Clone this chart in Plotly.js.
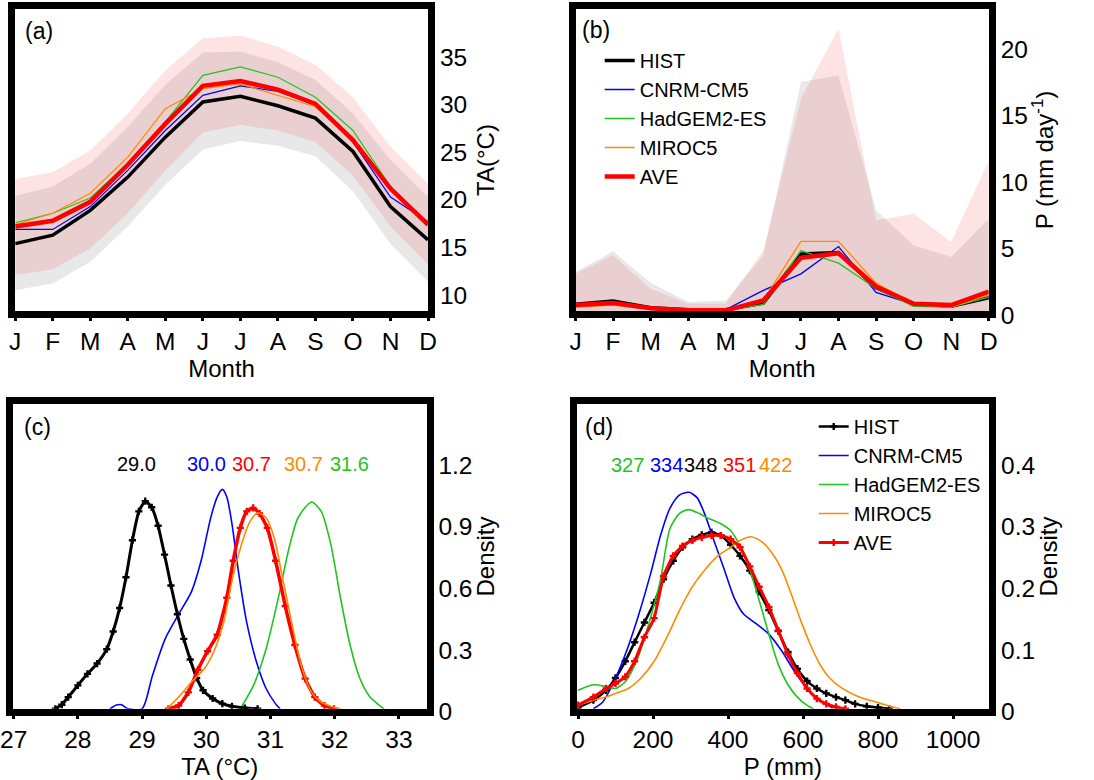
<!DOCTYPE html>
<html><head><meta charset="utf-8">
<script src="https://cdn.plot.ly/plotly-3.0.1.min.js"></script>
<style>html,body{margin:0;padding:0;background:#fff}#chart{width:1094px;height:780px}</style>
</head><body><div id="chart"></div>
<script>
// ---------- data ----------
const months = ['J','F','M','A','M','J','J','A','S','O','N','D'];
const monthIdx = [1,2,3,4,5,6,7,8,9,10,11,12];

// (a) air temperature, monthly
const taHIST   = [15.4,16.3,18.9,22.4,26.6,30.3,30.9,29.9,28.6,25.1,19.3,15.8];
const taCNRM   = [16.9,16.9,19.3,23.1,27.3,31.0,32.0,31.4,30.0,26.1,20.3,17.7];
const taHadGEM = [17.6,18.6,20.2,23.8,28.2,33.1,34.0,32.9,30.8,27.3,21.4,17.6];
const taMIROC  = [17.4,18.6,20.7,24.5,29.6,31.7,32.2,31.0,29.8,26.3,21.2,17.5];
const taAVE    = [17.2,17.8,19.8,23.7,28.0,32.0,32.5,31.6,30.1,26.3,21.2,17.4];
const taHISTlo = [10.5,11.2,13.5,17.2,21.6,25.3,26.2,25.7,24.6,20.9,15.4,11.4];
const taHISThi = [20.4,21.4,23.8,27.7,32.1,35.5,35.6,34.5,32.6,29.1,24.2,20.3];
const taAVElo  = [12.1,12.7,14.9,18.6,23.1,27.1,27.9,27.3,26.1,22.6,17.2,13.2];
const taAVEhi  = [22.2,22.9,25.2,29.1,33.6,37.0,37.3,36.1,34.2,30.8,25.6,21.7];

// (b) precipitation, monthly
const pHIST   = [0.5,0.75,0.25,0.1,0.1,0.6,4.3,4.4,1.75,0.55,0.35,1.0];
const pCNRM   = [0.45,0.6,0.2,0.05,0.1,1.55,2.8,4.85,1.4,0.5,0.3,1.05];
const pHadGEM = [0.35,0.55,0.15,0.05,0.05,0.5,4.55,3.6,1.7,0.35,0.3,1.05];
const pMIROC  = [0.3,0.45,0.15,0.05,0.05,0.8,5.25,5.25,2.1,0.55,0.3,1.2];
const pAVE    = [0.45,0.6,0.2,0.05,0.05,0.8,4.0,4.35,1.85,0.55,0.45,1.45];
const pHISThi = [2.94,4.49,2.13,0.68,0.8,4.19,17.24,17.74,7.58,4.94,4.07,6.95];
const pAVEhi  = [2.81,4.19,1.68,0.55,0.55,4.57,15.98,21.25,6.83,7.33,5.19,11.34];

// (c) density of TA
const cHISTx = [27.65,27.75,27.85,28.0,28.15,28.3,28.45,28.55,28.65,28.75,28.85,28.95,29.05,29.15,29.25,29.35,29.45,29.55,29.65,29.75,29.85,29.95,30.1,30.25,30.4,30.6,30.8];
const cHISTy = [0,0.02,0.057,0.114,0.17,0.22,0.29,0.376,0.49,0.64,0.82,0.96,1.01,0.98,0.89,0.75,0.6,0.46,0.34,0.24,0.15,0.09,0.05,0.025,0.012,0.004,0];
const cCNRMx = [28.5,28.6,28.68,28.78,29.0,29.16,29.36,29.57,29.77,29.92,30.07,30.17,30.25,30.32,30.4,30.5,30.63,30.78,30.93,31.08,31.15];
const cCNRMy = [0,0.018,0.02,0,0,0.16,0.34,0.46,0.57,0.72,0.93,1.03,1.067,1.03,0.9,0.67,0.42,0.23,0.1,0.024,0];
const cHadx  = [30.53,30.73,30.93,31.13,31.28,31.43,31.64,31.79,31.94,32.09,32.24,32.39,32.55,32.7,32.77];
const cHady  = [0,0.11,0.29,0.55,0.77,0.93,1.006,0.96,0.8,0.54,0.31,0.15,0.057,0.016,0];
const cMIROCx = [29.39,29.57,29.77,29.97,30.12,30.27,30.42,30.58,30.68,30.8,30.93,31.06,31.18,31.33,31.48,31.64,31.79,31.94,32.09];
const cMIROCy = [0,0.057,0.13,0.195,0.28,0.42,0.65,0.83,0.91,0.953,0.93,0.83,0.65,0.42,0.21,0.08,0.033,0.013,0];
const cAVEx = [29.41,29.57,29.72,29.87,30.02,30.17,30.32,30.42,30.53,30.63,30.73,30.83,30.95,31.08,31.23,31.38,31.54,31.69,31.84,31.99];
const cAVEy = [0,0.016,0.08,0.19,0.28,0.36,0.54,0.72,0.88,0.96,0.977,0.95,0.88,0.72,0.5,0.31,0.147,0.057,0.016,0];
const cLabels = ['29.0','30.0','30.7','30.7','31.6'];
const cLabelX = [28.91,30.0,30.70,31.51,32.23];

// (d) density of P
const dHISTx = [0,41,75,100,126,151,177,203,228,254,279,305,330,356,381,407,432,458,483,509,534,560,585,611,637,662,688,713,739,770,800,830];
const dHISTy = [0.002,0.014,0.03,0.05,0.077,0.108,0.14,0.172,0.21,0.24,0.262,0.275,0.282,0.286,0.281,0.266,0.248,0.224,0.19,0.16,0.126,0.092,0.065,0.045,0.033,0.025,0.019,0.014,0.008,0.004,0.002,0];
const dCNRMx = [41,66,92,126,160,194,220,245,271,296,318,339,364,390,415,441,475,509,543,577,611,645,679];
const dCNRMy = [0,0.011,0.039,0.088,0.149,0.22,0.281,0.325,0.347,0.351,0.342,0.314,0.27,0.226,0.182,0.154,0.138,0.121,0.094,0.061,0.033,0.014,0.001];
const dHadx = [0,41,75,100,126,160,194,220,245,271,296,322,347,381,407,432,458,483,509,534,560,585,611,628];
const dHady = [0.03,0.039,0.036,0.033,0.044,0.083,0.149,0.209,0.292,0.317,0.323,0.317,0.309,0.3,0.289,0.264,0.226,0.176,0.121,0.072,0.039,0.019,0.0055,0];
const dMIROCx = [0,41,75,100,134,168,203,237,271,305,339,373,407,432,462,492,517,543,568,594,619,645,671,705,739,770,800,840,860];
const dMIROCy = [0.0055,0.014,0.019,0.025,0.033,0.05,0.077,0.116,0.16,0.198,0.226,0.248,0.262,0.273,0.279,0.27,0.253,0.226,0.187,0.143,0.105,0.072,0.05,0.033,0.022,0.015,0.01,0.003,0];
const dAVEx = [0,41,75,100,126,151,177,203,228,254,279,305,330,356,381,407,432,458,483,509,534,560,585,611,637,662,688,713];
const dAVEy = [0.006,0.019,0.033,0.041,0.052,0.077,0.116,0.147,0.215,0.248,0.264,0.273,0.278,0.281,0.281,0.275,0.262,0.231,0.198,0.165,0.127,0.088,0.058,0.033,0.0165,0.008,0.003,0];
const dLabels = ['327','334','348','351','422'];
const dLabelX = [131,235,326,431,526];

// ---------- styles ----------
const F = 'Liberation Sans, Arial, sans-serif';
const C = {HIST:'#000000', CNRM:'#0000ff', Had:'#1fc41f', MIROC:'#ff8a00', AVE:'#ff0000'};
const GRAY = 'rgba(110,110,110,0.16)';
const PINK = 'rgba(240,60,60,0.14)';
const W = 1094, H = 780;
const px = v => v / W, py = v => 1 - v / H;

const traces = [];
function band(x, lo, hi, color, xa, ya) {
  traces.push({x: x, y: lo, xaxis: xa, yaxis: ya, mode: 'lines', line: {width: 0, color: color}, showlegend: false, hoverinfo: 'skip'});
  traces.push({x: x, y: hi, xaxis: xa, yaxis: ya, mode: 'lines', line: {width: 0, color: color}, fill: 'tonexty', fillcolor: color, showlegend: false, hoverinfo: 'skip'});
}
function zband(x, hi, color, xa, ya) {
  traces.push({x: x, y: hi, xaxis: xa, yaxis: ya, mode: 'lines', line: {width: 0, color: color}, fill: 'tozeroy', fillcolor: color, showlegend: false, hoverinfo: 'skip'});
}
function line(x, y, name, color, w, xa, ya, leg, extra) {
  const t = {x: x, y: y, xaxis: xa, yaxis: ya, name: name, mode: 'lines', line: {color: color, width: w}, showlegend: !!leg};
  if (leg) t.legend = leg;
  traces.push(Object.assign(t, extra || {}));
}

// (a)
band(monthIdx, taHISTlo, taHISThi, GRAY, 'x', 'y');
band(monthIdx, taAVElo, taAVEhi, PINK, 'x', 'y');
line(monthIdx, taHIST, 'HIST', C.HIST, 3.5, 'x', 'y');
line(monthIdx, taCNRM, 'CNRM-CM5', C.CNRM, 1.2, 'x', 'y');
line(monthIdx, taHadGEM, 'HadGEM2-ES', C.Had, 1.2, 'x', 'y');
line(monthIdx, taMIROC, 'MIROC5', C.MIROC, 1.2, 'x', 'y');
line(monthIdx, taAVE, 'AVE', C.AVE, 4.5, 'x', 'y');

// (b)
zband(monthIdx, pHISThi, GRAY, 'x2', 'y2');
zband(monthIdx, pAVEhi, PINK, 'x2', 'y2');
line(monthIdx, pHIST, 'HIST', C.HIST, 3.5, 'x2', 'y2', 'legend');
line(monthIdx, pCNRM, 'CNRM-CM5', C.CNRM, 1.3, 'x2', 'y2', 'legend');
line(monthIdx, pHadGEM, 'HadGEM2-ES', C.Had, 1.3, 'x2', 'y2', 'legend');
line(monthIdx, pMIROC, 'MIROC5', C.MIROC, 1.3, 'x2', 'y2', 'legend');
line(monthIdx, pAVE, 'AVE', C.AVE, 4.5, 'x2', 'y2', 'legend');

// (c)
const mk = col => ({mode: 'lines+markers', marker: {symbol: 'cross', size: 6, color: col}});
line(cCNRMx, cCNRMy, 'CNRM-CM5', C.CNRM, 1.6, 'x3', 'y3', null, {line: {color: C.CNRM, width: 1.6, shape: 'spline', smoothing: 0.7}});
line(cHadx, cHady, 'HadGEM2-ES', C.Had, 1.6, 'x3', 'y3', null, {line: {color: C.Had, width: 1.6, shape: 'spline', smoothing: 0.7}});
line(cHISTx, cHISTy, 'HIST', C.HIST, 3, 'x3', 'y3', null, Object.assign(mk(C.HIST), {line: {color: C.HIST, width: 3, shape: 'spline', smoothing: 0.5}}));
line(cAVEx, cAVEy, 'AVE', C.AVE, 3.5, 'x3', 'y3', null, Object.assign(mk(C.AVE), {line: {color: C.AVE, width: 3.5, shape: 'spline', smoothing: 0.5}}));
line(cMIROCx, cMIROCy, 'MIROC5', C.MIROC, 1.6, 'x3', 'y3', null, {line: {color: C.MIROC, width: 1.6, shape: 'spline', smoothing: 0.7}});

// (d)
line(dHISTx, dHISTy, 'HIST', C.HIST, 2.5, 'x4', 'y4', 'legend2', Object.assign(mk(C.HIST), {line: {color: C.HIST, width: 2.5, shape: 'spline', smoothing: 0.5}}));
line(dCNRMx, dCNRMy, 'CNRM-CM5', C.CNRM, 1.6, 'x4', 'y4', 'legend2', {line: {color: C.CNRM, width: 1.6, shape: 'spline', smoothing: 0.7}});
line(dHadx, dHady, 'HadGEM2-ES', C.Had, 1.6, 'x4', 'y4', 'legend2', {line: {color: C.Had, width: 1.6, shape: 'spline', smoothing: 0.7}});
line(dMIROCx, dMIROCy, 'MIROC5', C.MIROC, 1.6, 'x4', 'y4', 'legend2', {line: {color: C.MIROC, width: 1.6, shape: 'spline', smoothing: 0.7}});
line(dAVEx, dAVEy, 'AVE', C.AVE, 3, 'x4', 'y4', 'legend2', Object.assign(mk(C.AVE), {line: {color: C.AVE, width: 3, shape: 'spline', smoothing: 0.5}}));

// ---------- layout ----------
const tickFont = {family: F, size: 24.5, color: '#000'};
const titleFont = {family: F, size: 24, color: '#000'};
const base = {showline: true, mirror: true, linewidth: 7, linecolor: '#000', showgrid: false, zeroline: false, tickfont: tickFont, fixedrange: true};
const xb = Object.assign({}, base, {ticks: 'outside', ticklen: 3, tickwidth: 3, tickcolor: '#000'});
const yb = Object.assign({}, base, {ticks: '', side: 'right'});

const annotations = [];
const panelLab = [['(a)', 38.7, 31], ['(b)', 596, 30], ['(c)', 37, 427], ['(d)', 598.5, 427]];
panelLab.forEach(p => annotations.push({text: p[0], xref: 'paper', yref: 'paper', x: px(p[1]), y: py(p[2]), xanchor: 'center', yanchor: 'middle', showarrow: false, font: {family: F, size: 23, color: '#000'}}));
const cCols = [C.HIST, C.CNRM, C.AVE, C.MIROC, C.Had];
cLabels.forEach((t, i) => annotations.push({text: t, xref: 'x3', yref: 'y3', x: cLabelX[i], y: 1.19, xanchor: 'center', yanchor: 'middle', showarrow: false, font: {family: F, size: 20, color: cCols[i]}}));
const dCols = [C.Had, C.CNRM, C.HIST, C.AVE, C.MIROC];
dLabels.forEach((t, i) => annotations.push({text: t, xref: 'x4', yref: 'y4', x: dLabelX[i], y: 0.396, xanchor: 'center', yanchor: 'middle', showarrow: false, font: {family: F, size: 20, color: dCols[i]}}));

const legFont = {family: F, size: 20, color: '#000'};
const layout = {
  width: W, height: H, margin: {l: 0, r: 0, t: 0, b: 0},
  paper_bgcolor: '#fff', plot_bgcolor: 'rgba(0,0,0,0)',
  font: {family: F, color: '#000'},
  xaxis: Object.assign({}, xb, {domain: [px(15.2), px(428)], range: [1, 12], tickvals: monthIdx, ticktext: months, anchor: 'y',
    title: {text: 'Month', font: titleFont, standoff: 5}}),
  yaxis: Object.assign({}, yb, {domain: [py(311), py(9)], range: [8.317, 40.08], tickvals: [10,15,20,25,30,35], anchor: 'x',
    title: {text: 'TA(°C)', font: titleFont, standoff: 14}}),
  xaxis2: Object.assign({}, xb, {domain: [px(575.5), px(988.8)], range: [1, 12], tickvals: monthIdx, ticktext: months, anchor: 'y2',
    title: {text: 'Month', font: titleFont, standoff: 5}}),
  yaxis2: Object.assign({}, yb, {domain: [py(311), py(9)], range: [0, 22.74], tickvals: [0,5,10,15,20], anchor: 'x2', ticklabelshift: 4,
    title: {text: 'P (mm day<sup>-1</sup>)', font: titleFont, standoff: 9}}),
  xaxis3: Object.assign({}, xb, {domain: [px(13), px(426.5)], range: [26.99, 33.43], tickvals: [27,28,29,30,31,32,33], anchor: 'y3',
    title: {text: 'TA (°C)', font: titleFont, standoff: 5}}),
  yaxis3: Object.assign({}, yb, {domain: [py(708.8), py(404.2)], range: [0, 1.4815], tickvals: [0,0.3,0.6,0.9,1.2], ticktext: ['0','0.3','0.6','0.9','1.2'], anchor: 'x3', ticklabelshift: 3,
    title: {text: 'Density', font: titleFont, standoff: 8}}),
  xaxis4: Object.assign({}, xb, {domain: [px(576.5), px(989.2)], range: [-4, 1096.5], tickvals: [0,200,400,600,800,1000], anchor: 'y4',
    title: {text: 'P (mm)', font: titleFont, standoff: 5}}),
  yaxis4: Object.assign({}, yb, {domain: [py(708.8), py(404.2)], range: [0, 0.4939], tickvals: [0,0.1,0.2,0.3,0.4], ticktext: ['0','0.1','0.2','0.3','0.4'], anchor: 'x4', ticklabelshift: 3,
    title: {text: 'Density', font: titleFont, standoff: 8}}),
  legend: {x: px(599.7), y: py(41), xanchor: 'left', yanchor: 'top', traceorder: 'normal', bgcolor: 'rgba(0,0,0,0)', borderwidth: 0, font: legFont},
  legend2: {x: px(813.7), y: py(407), xanchor: 'left', yanchor: 'top', traceorder: 'normal', bgcolor: 'rgba(0,0,0,0)', borderwidth: 0, font: legFont},
  annotations: annotations,
  showlegend: true
};

Plotly.newPlot('chart', traces, layout, {displayModeBar: false, staticPlot: true});
</script>
</body></html>
